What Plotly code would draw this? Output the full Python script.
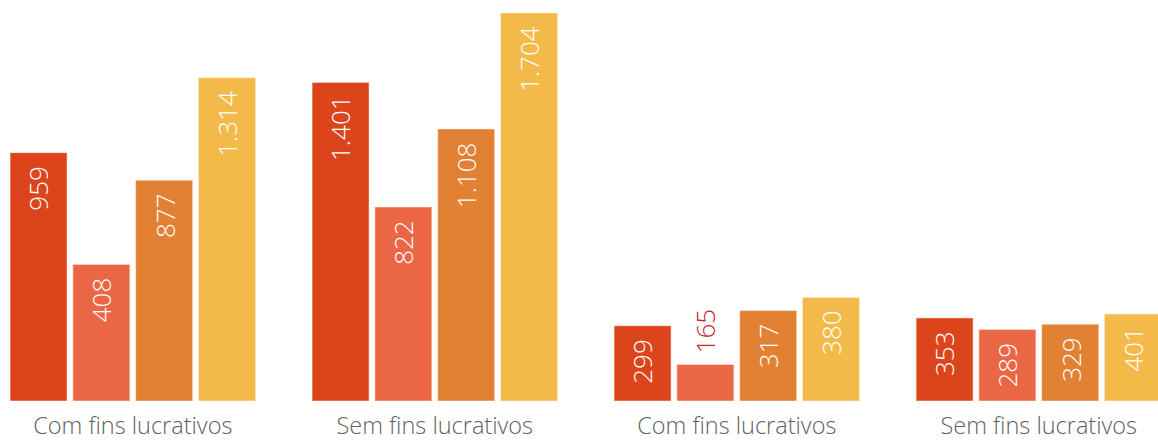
import plotly.graph_objects as go

# ---- data ----
groups = ["Com fins lucrativos", "Sem fins lucrativos", "Com fins lucrativos", "Sem fins lucrativos"]
series_names = ["Série 1", "Série 2", "Série 3", "Série 4"]
# numbers printed on the bars (one list per series, one value per group)
labels_s1 = ["959", "1.401", "299", "353"]
labels_s2 = ["408", "822", "165", "289"]
labels_s3 = ["877", "1.108", "317", "329"]
labels_s4 = ["1.314", "1.704", "380", "401"]
# bar heights as drawn (relative index, tallest bar = 100)
heights_s1 = [64.0, 82.1, 19.4, 21.4]
heights_s2 = [35.2, 50.0, 9.4, 18.4]
heights_s3 = [56.9, 70.1, 23.3, 19.8]
heights_s4 = [83.3, 100.0, 26.7, 22.4]
colors = ["#DC451B", "#EA6645", "#E28033", "#F3BA4A"]

heights = [heights_s1, heights_s2, heights_s3, heights_s4]
labels = [labels_s1, labels_s2, labels_s3, labels_s4]

x = list(range(len(groups)))
bargap = 0.168
bargroupgap = 0.093
n = len(heights)
W = 1 - bargap
slot = W / n

fig = go.Figure()
annotations = []
for i in range(n):
    fig.add_trace(go.Bar(
        x=x, y=heights[i], name=series_names[i],
        marker=dict(color=colors[i], line=dict(color="rgba(255,235,215,0.7)", width=0.8)),
        hoverinfo="skip",
    ))
    off = -W / 2 + slot * (i + 0.5)
    for g in x:
        h = heights[i][g]
        inside = h >= 15
        annotations.append(dict(
            x=g + off, y=h, xref="x", yref="y",
            text=labels[i][g], showarrow=False, textangle=-90,
            xanchor="center",
            yanchor="top" if inside else "bottom",
            yshift=-11 if inside else 9,
            font=dict(family="Open Sans", size=26, weight=300,
                      color="#FFFFFF" if inside else "#C0262D"),
        ))

fig.update_layout(
    width=1158, height=441,
    margin=dict(l=0, r=0, t=0, b=38),
    paper_bgcolor="white", plot_bgcolor="white",
    barmode="group", bargap=bargap, bargroupgap=bargroupgap,
    showlegend=False,
    annotations=annotations,
    xaxis=dict(
        range=[-0.4397, 3.3947], tickmode="array", tickvals=x, ticktext=groups,
        showgrid=False, zeroline=False, showline=False,
        ticks="outside", ticklen=4, tickcolor="rgba(0,0,0,0)",
        tickfont=dict(family="Open Sans", size=23.5, weight=300, color="#5F5F5F"),
    ),
    yaxis=dict(range=[0, 100 * 403 / 390], visible=False, showgrid=False, zeroline=False),
)

fig.write_html(
    "out.html",
    config={"displayModeBar": False},
    post_script="document.body.style.margin='0';document.body.style.overflow='hidden';",
)
